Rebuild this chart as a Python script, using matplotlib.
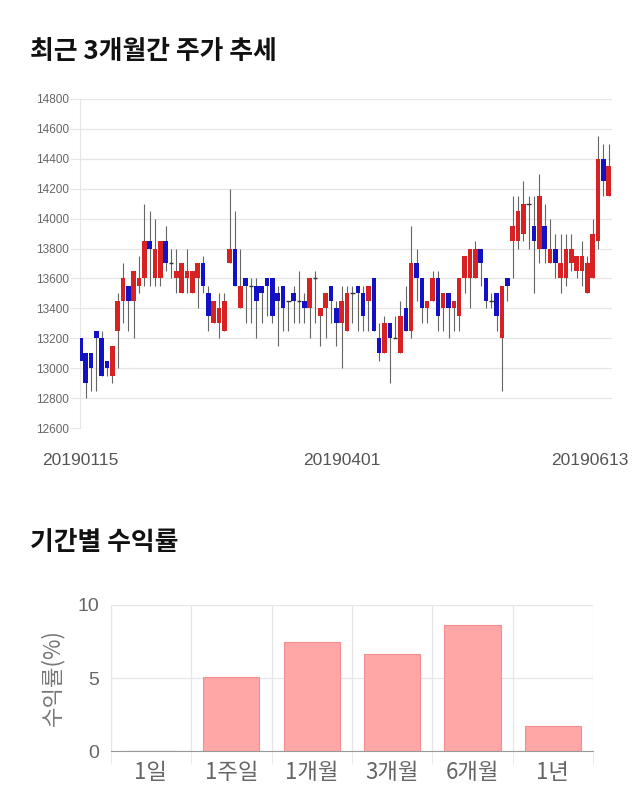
import numpy as np
import matplotlib.pyplot as plt
from matplotlib.transforms import ScaledTranslation

KR = ['Noto Sans CJK KR', 'DejaVu Sans']
NUM = ['Liberation Sans', 'DejaVu Sans']

# daily candles, 2019-01-15 .. 2019-06-13
opens = [13200, 13100, 13100, 13250, 13200, 13050, 12950, 13250, 13450, 13550,
         13450, 13550, 13600, 13850, 13600, 13600, 13850, 13700, 13600, 13500,
         13600, 13500, 13600, 13700, 13500, 13300, 13300, 13250, 13700, 13800,
         13400, 13600, 13550, 13550, 13550, 13600, 13600, 13500, 13550, 13450,
         13500, 13450, 13450, 13400, 13600, 13350, 13400, 13550, 13400, 13300,
         13250, 13500, 13550, 13500, 13450, 13600, 13200, 13100, 13300, 13200,
         13100, 13400, 13250, 13700, 13600, 13400, 13450, 13600, 13400, 13500,
         13400, 13350, 13600, 13600, 13600, 13800, 13600, 13450, 13500, 13200,
         13600, 13850, 13850, 13900, 14100, 13950, 13800, 13950, 13700, 13800,
         13600, 13600, 13700, 13650, 13650, 13500, 13600, 13850, 14400, 14150]
highs = [13200, 13100, 13100, 13250, 13250, 13050, 13150, 13500, 13700, 13550,
         13650, 13750, 14100, 14050, 14000, 13850, 13950, 13800, 13800, 13700,
         13800, 13650, 13700, 13750, 13550, 13450, 13500, 13500, 14200, 14050,
         13800, 13600, 13600, 13600, 13550, 13600, 13600, 13550, 13550, 13450,
         13550, 13650, 13500, 13600, 13650, 13400, 13500, 13550, 13450, 13550,
         13550, 13550, 13550, 13550, 13550, 13600, 13300, 13350, 13300, 13350,
         13450, 13550, 13950, 13800, 13600, 13450, 13650, 13650, 13500, 13500,
         13450, 13600, 13750, 13800, 13850, 13800, 13600, 13500, 13500, 13550,
         13600, 14150, 14150, 14250, 14150, 14150, 14300, 14100, 14000, 13900,
         13900, 13900, 13900, 13750, 13850, 13750, 14000, 14550, 14500, 14500]
lows = [13050, 12800, 12850, 12850, 12950, 12950, 12900, 13000, 13300, 13250,
        13200, 13500, 13550, 13550, 13550, 13550, 13650, 13600, 13500, 13500,
        13500, 13500, 13400, 13500, 13250, 13300, 13200, 13250, 13700, 13550,
        13400, 13300, 13300, 13200, 13300, 13350, 13300, 13150, 13250, 13250,
        13300, 13300, 13300, 13200, 13300, 13150, 13200, 13300, 13150, 13000,
        13250, 13300, 13250, 13250, 13250, 13250, 13050, 13100, 12900, 13200,
        13100, 13250, 13200, 13450, 13300, 13300, 13450, 13250, 13250, 13200,
        13250, 13250, 13500, 13400, 13600, 13550, 13400, 13400, 13250, 12850,
        13450, 13600, 13800, 13850, 13800, 13500, 13700, 13700, 13700, 13600,
        13500, 13550, 13650, 13600, 13550, 13500, 13600, 13800, 14150, 14150]
closes = [13050, 12900, 13000, 13200, 12950, 13000, 13150, 13450, 13600, 13450,
          13650, 13600, 13850, 13800, 13800, 13850, 13700, 13700, 13650, 13700,
          13650, 13650, 13700, 13550, 13350, 13450, 13400, 13450, 13800, 13550,
          13550, 13550, 13550, 13450, 13500, 13550, 13350, 13450, 13400, 13450,
          13450, 13450, 13400, 13600, 13600, 13400, 13500, 13450, 13300, 13450,
          13500, 13500, 13500, 13350, 13550, 13250, 13100, 13300, 13200, 13200,
          13350, 13250, 13700, 13600, 13400, 13450, 13600, 13350, 13500, 13400,
          13450, 13600, 13750, 13800, 13800, 13700, 13450, 13450, 13350, 13550,
          13550, 13950, 14050, 14100, 14100, 13850, 14150, 13800, 13800, 13700,
          13700, 13800, 13800, 13750, 13750, 13700, 13900, 14400, 14250, 14350]
date_labels = ['20190115', '20190401', '20190613']
date_index = [0, 49, 99]

periods = ['1일', '1주일', '1개월', '3개월', '6개월', '1년']
returns = [0.0, 5.09, 7.44, 6.64, 8.65, 1.71]

fig = plt.figure(figsize=(6.4, 8.1), dpi=100)

# ---- candle chart ----
ax = fig.add_axes([0.125, 0.4716, 0.831, 0.4062])
o = np.array(opens); h = np.array(highs); l = np.array(lows); c = np.array(closes)
x = np.arange(len(o))
up = c > o
flat = c == o
colors = np.where(up, '#d62222', '#1212c4')

ax.vlines(x, l, h, color='#666666', linewidth=0.8, zorder=2)
body_lo = np.minimum(o, c)
body_h = np.abs(c - o)
ax.bar(x[~flat], body_h[~flat], bottom=body_lo[~flat], width=0.86,
       color=colors[~flat], linewidth=0, zorder=3)
ax.hlines(c[flat], x[flat] - 0.43, x[flat] + 0.43, color='#333333',
          linewidth=1.0, zorder=3)

ax.set_xlim(-0.05, len(o) - 0.4)
ax.set_ylim(12600, 14800)
ax.set_yticks(np.arange(12600, 14801, 200))
ax.grid(axis='y', color='#e6e6e6', linewidth=0.9)
ax.set_axisbelow(True)
for s in ['top', 'right', 'bottom']:
    ax.spines[s].set_visible(False)
ax.spines['left'].set_color('#e6e6e6')
ax.tick_params(axis='y', length=7, color='#e6e6e6', labelsize=8.5,
               labelcolor='#666666', pad=1)
ax.tick_params(axis='x', length=0, labelsize=12.5, labelcolor='#555555', pad=18)
for t in ax.get_yticklabels():
    t.set_family(NUM)
ax.set_xticks(date_index)
ax.set_xticklabels(date_labels, family=NUM)
last = ax.get_xticklabels()[-1]
last.set_transform(last.get_transform() + ScaledTranslation(-0.19, 0, fig.dpi_scale_trans))

fig.text(0.047, 0.936, '최근 3개월간 주가 추세', family=KR, fontsize=18.6,
         fontweight='bold', va='center', color='#111111')

# ---- period returns ----
ax2 = fig.add_axes([0.173, 0.0728, 0.7537, 0.1803])
xb = np.arange(len(periods))
ax2.bar(xb, returns, width=0.7, color='#ffa6a6', edgecolor='#f09090',
        linewidth=0.8, zorder=3)
ax2.set_xlim(-0.5, len(periods) - 0.5)
ax2.set_ylim(0, 10)
ax2.set_yticks([0, 5, 10])
ax2.set_xticks(xb)
ax2.set_xticklabels(periods, family=KR)
ax2.set_xticks(np.arange(-0.5, len(periods), 1), minor=True)
ax2.grid(axis='y', color='#e6e6e6', linewidth=0.9)
ax2.grid(axis='x', which='minor', color='#e6e6e6', linewidth=0.9)
ax2.set_axisbelow(True)
for s in ['top', 'right']:
    ax2.spines[s].set_visible(False)
ax2.spines['left'].set_color('#e6e6e6')
ax2.spines['bottom'].set_color('#999999')
ax2.tick_params(axis='x', which='major', length=0, labelsize=16,
                labelcolor='#666666', pad=7)
ax2.tick_params(axis='x', which='minor', length=9, color='#e6e6e6')
ax2.tick_params(axis='y', length=0, labelsize=14, labelcolor='#666666', pad=8)
for t in ax2.get_yticklabels():
    t.set_family(NUM)
ax2.set_ylabel('수익률(%)', family=KR, fontsize=16, color='#777777', labelpad=10)

fig.text(0.047, 0.330, '기간별 수익률', family=KR, fontsize=18.6,
         fontweight='bold', va='center', color='#111111')

fig.savefig('out.png', dpi=100, facecolor='white')
